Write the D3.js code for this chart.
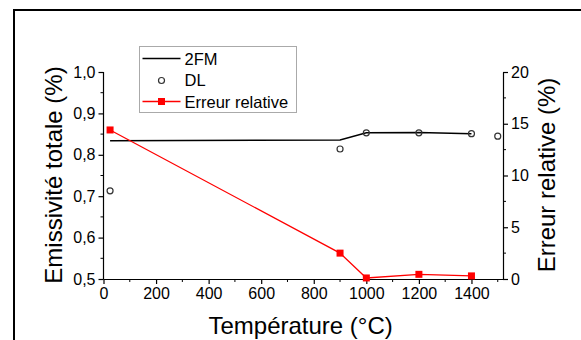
<!DOCTYPE html>
<html>
<head>
<meta charset="utf-8" />
<style>
  body { margin: 0; background: #fff; }
  text { font-family: Arial, "Liberation Sans", sans-serif; fill: #000; }
</style>
</head>
<body>
<svg width="581" height="340"></svg>
<script src="https://d3js.org/d3.v7.min.js"></script>
<script>
  // data
  var temps2FM = [25, 900, 1000, 1200, 1400];
  var emis2FM = [0.834, 0.836, 0.853, 0.854, 0.851];

  var tempsDL = [25, 900, 1000, 1200, 1400, 1500];
  var emisDL = [0.713, 0.814, 0.853, 0.853, 0.851, 0.845];

  var tempsErr = [25, 900, 1000, 1200, 1400];
  var errRel = [14.4, 2.5, 0.1, 0.45, 0.3];

  var xTicks = [0, 200, 400, 600, 800, 1000, 1200, 1400];
  var yTicks = [0.5, 0.6, 0.7, 0.8, 0.9, 1.0];
  var y2Ticks = [0, 5, 10, 15, 20];

  var svg = d3.select("svg");

  // outer frame (runs off the right and bottom of the picture)
  svg.append("rect")
    .attr("x", 14).attr("y", 10)
    .attr("width", 700).attr("height", 500)
    .attr("fill", "none")
    .attr("stroke", "#000")
    .attr("stroke-width", 2);

  var x = d3.scaleLinear().domain([0, 1520]).range([103.5, 503]);
  var y = d3.scaleLinear().domain([0.5, 1.0]).range([279, 72]);
  var y2 = d3.scaleLinear().domain([0, 20]).range([279, 72]);

  var fmt = function (d) { return d3.format(".1f")(d).replace(".", ","); };
  var font = "Arial, 'Liberation Sans', sans-serif";

  // x axis
  var gx = svg.append("g").attr("transform", "translate(0,279)");
  gx.call(d3.axisBottom(x).tickValues(xTicks).tickFormat(d3.format("d")).tickSize(5).tickSizeOuter(0).tickPadding(4));
  gx.selectAll("text").attr("font-size", "16px").attr("font-family", font);
  // minor ticks
  gx.selectAll(".minor").data(d3.range(100, 1600, 200)).enter().append("line")
    .attr("class", "minor")
    .attr("x1", function (d) { return x(d); }).attr("x2", function (d) { return x(d); })
    .attr("y1", 0).attr("y2", 3).attr("stroke", "#000");

  // left axis
  var gy = svg.append("g").attr("transform", "translate(103.5,0)");
  gy.call(d3.axisLeft(y).tickValues(yTicks).tickFormat(fmt).tickSize(5).tickSizeOuter(0).tickPadding(3));
  gy.selectAll("text").attr("font-size", "16px").attr("font-family", font);
  gy.selectAll(".minor").data(d3.range(0.55, 1.0, 0.1)).enter().append("line")
    .attr("class", "minor")
    .attr("y1", function (d) { return y(d); }).attr("y2", function (d) { return y(d); })
    .attr("x1", 0).attr("x2", -3).attr("stroke", "#000");
  // extend the axis line down to meet the x axis
  gy.select(".domain").attr("d", "M0," + y(1.0) + "V" + (y(0.5) + 0.5));

  // right axis
  var gy2 = svg.append("g").attr("transform", "translate(503,0)");
  gy2.call(d3.axisRight(y2).tickValues(y2Ticks).tickSize(5).tickSizeOuter(0).tickPadding(3));
  gy2.selectAll("text").attr("font-size", "16px").attr("font-family", font);
  gy2.selectAll(".minor").data(d3.range(2.5, 20, 5)).enter().append("line")
    .attr("class", "minor")
    .attr("y1", function (d) { return y2(d); }).attr("y2", function (d) { return y2(d); })
    .attr("x1", 0).attr("x2", 3).attr("stroke", "#000");

  svg.selectAll(".domain, .tick line").attr("stroke-width", 1.2);

  // axis titles
  svg.append("text")
    .attr("x", x(750)).attr("y", 334)
    .attr("text-anchor", "middle")
    .attr("font-size", "24px")
    .text("Température (°C)");

  svg.append("text")
    .attr("transform", "translate(62,175) rotate(-90)")
    .attr("text-anchor", "middle")
    .attr("font-size", "24px")
    .text("Emissivité totale (%)");

  svg.append("text")
    .attr("transform", "translate(555,175) rotate(-90)")
    .attr("text-anchor", "middle")
    .attr("font-size", "24px")
    .text("Erreur relative (%)");

  // 2FM line
  var line2FM = d3.line()
    .x(function (d, i) { return x(temps2FM[i]); })
    .y(function (d) { return y(d); });
  svg.append("path")
    .datum(emis2FM)
    .attr("d", line2FM)
    .attr("fill", "none")
    .attr("stroke", "#000")
    .attr("stroke-width", 1.5);

  // DL circles
  svg.append("g").selectAll("circle")
    .data(emisDL).enter().append("circle")
    .attr("cx", function (d, i) { return x(tempsDL[i]); })
    .attr("cy", function (d) { return y(d); })
    .attr("r", 3)
    .attr("fill", "none")
    .attr("stroke", "#333")
    .attr("stroke-width", 1.2);

  // relative error
  var lineErr = d3.line()
    .x(function (d, i) { return x(tempsErr[i]); })
    .y(function (d) { return y2(d); });
  svg.append("path")
    .datum(errRel)
    .attr("d", lineErr)
    .attr("fill", "none")
    .attr("stroke", "#ff0000")
    .attr("stroke-width", 1.3);
  svg.append("g").selectAll("rect")
    .data(errRel).enter().append("rect")
    .attr("x", function (d, i) { return x(tempsErr[i]) - 3.5; })
    .attr("y", function (d) { return y2(d) - 3.5; })
    .attr("width", 7).attr("height", 7)
    .attr("fill", "#ff0000");

  // legend
  var lg = svg.append("g").attr("transform", "translate(139.5,46.5)");
  lg.append("rect")
    .attr("width", 157).attr("height", 66)
    .attr("fill", "#fff")
    .attr("stroke", "#aaa")
    .attr("stroke-width", 1);
  lg.append("line").attr("x1", 3).attr("x2", 41).attr("y1", 12).attr("y2", 12)
    .attr("stroke", "#000").attr("stroke-width", 1.5);
  lg.append("circle").attr("cx", 22).attr("cy", 34).attr("r", 3)
    .attr("fill", "none").attr("stroke", "#333").attr("stroke-width", 1.2);
  lg.append("line").attr("x1", 3).attr("x2", 41).attr("y1", 55).attr("y2", 55)
    .attr("stroke", "#ff0000").attr("stroke-width", 1.3);
  lg.append("rect").attr("x", 18.5).attr("y", 51.5).attr("width", 7).attr("height", 7)
    .attr("fill", "#ff0000");
  var labels = ["2FM", "DL", "Erreur relative"];
  lg.selectAll(".lbl").data(labels).enter().append("text")
    .attr("class", "lbl")
    .attr("x", 45)
    .attr("y", function (d, i) { return 18 + i * 21.5; })
    .attr("font-size", "16.5px")
    .text(function (d) { return d; });
</script>
</body>
</html>
